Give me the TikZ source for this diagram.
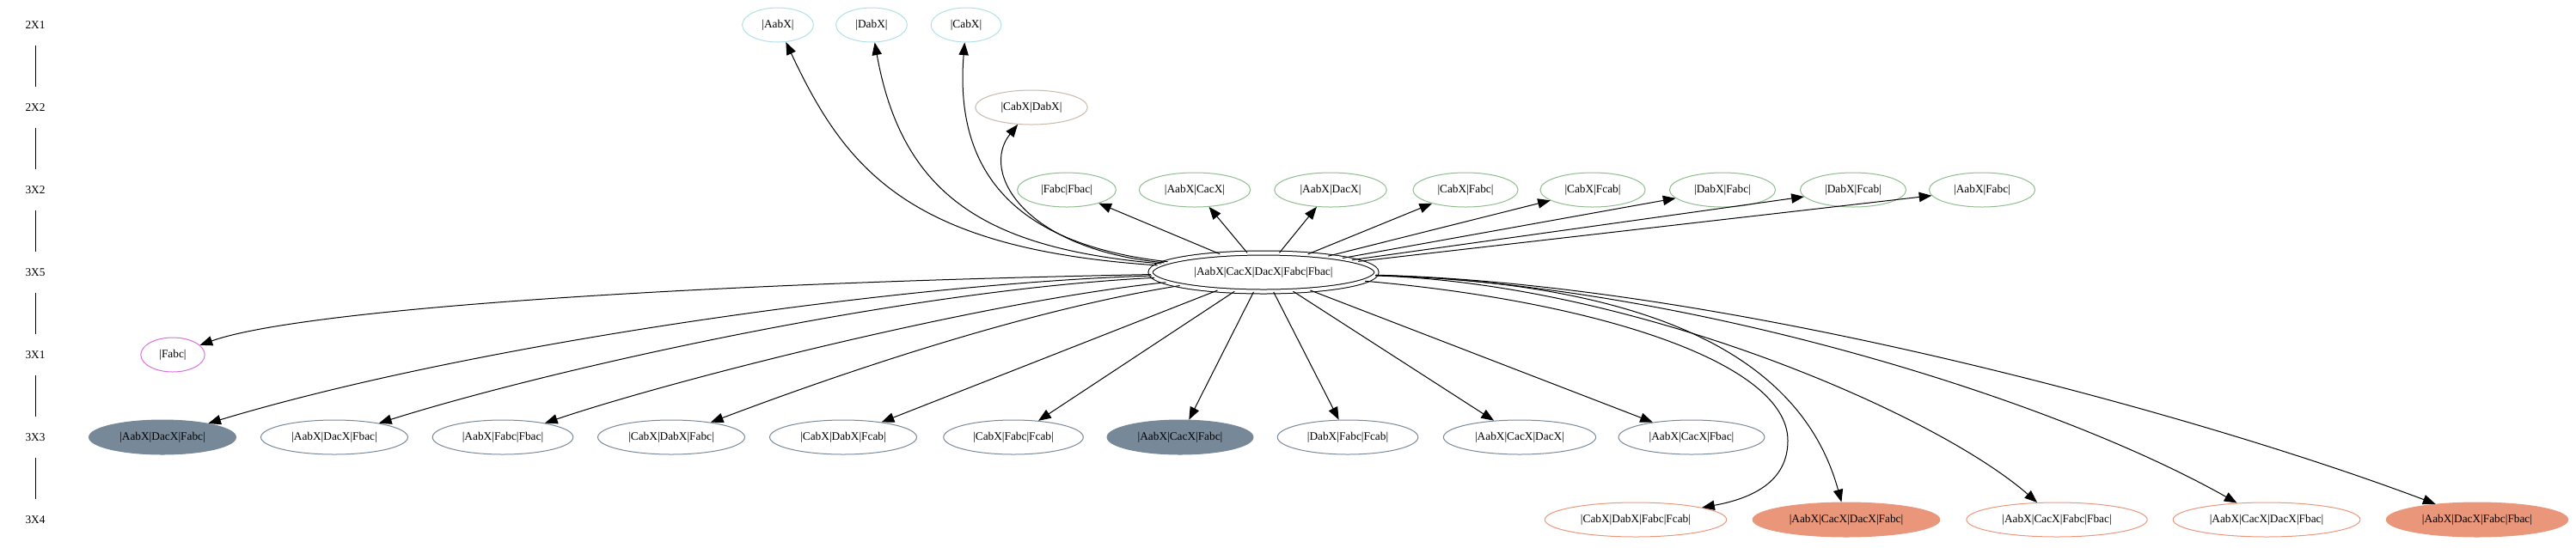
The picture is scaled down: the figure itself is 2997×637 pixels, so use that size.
\documentclass[tikz,border=0pt]{standalone}
\usepackage{fontspec}
\setmainfont{Liberation Serif}
\usetikzlibrary{shapes.geometric,arrows.meta}
\definecolor{rowcyan}{HTML}{B0E0E6}
\definecolor{rowtan}{RGB}{200,185,170}
\definecolor{rowgreen}{HTML}{8FBC8F}
\definecolor{roworchid}{HTML}{DA70D6}
\definecolor{rowslate}{HTML}{778899}
\definecolor{rowsalmon}{HTML}{E9967A}
\begin{document}
\begin{tikzpicture}
        [x=0.75pt,y=-0.75pt,
         >={Triangle[length=11pt,width=8.5pt]},
         rank/.style={inner sep=0pt,minimum height=36pt},
         state/.style={ellipse,draw,line width=0.75pt,inner xsep=8pt,
                       inner ysep=0pt,minimum height=30pt},
         link/.style={->,line width=0.75pt}]
        \useasboundingbox (0,0) rectangle (2997,637);

        \node[rank] (r1) at (41,29) {2X1};
        \node[rank] (r2) at (41,125) {2X2};
        \node[rank] (r3) at (41,221) {3X2};
        \node[rank] (r4) at (41,317) {3X5};
        \node[rank] (r5) at (41,413) {3X1};
        \node[rank] (r6) at (41,509) {3X3};
        \node[rank] (r7) at (41,605) {3X4};
        \draw[line width=0.75pt] (r1) -- (r2);
        \draw[line width=0.75pt] (r2) -- (r3);
        \draw[line width=0.75pt] (r3) -- (r4);
        \draw[line width=0.75pt] (r4) -- (r5);
        \draw[line width=0.75pt] (r5) -- (r6);
        \draw[line width=0.75pt] (r6) -- (r7);

        \node[state,draw=rowcyan] (a1) at (905,29) {|AabX|};
        \node[state,draw=rowcyan] (a2) at (1014,29) {|DabX|};
        \node[state,draw=rowcyan] (a3) at (1124,29) {|CabX|};

        \node[state,draw=rowtan] (b1) at (1200,125) {|CabX|DabX|};

        \node[state,draw=rowgreen] (c1) at (1241,221) {|Fabc|Fbac|};
        \node[state,draw=rowgreen] (c2) at (1390,221) {|AabX|CacX|};
        \node[state,draw=rowgreen] (c3) at (1548,221) {|AabX|DacX|};
        \node[state,draw=rowgreen] (c4) at (1705,221) {|CabX|Fabc|};
        \node[state,draw=rowgreen] (c5) at (1853,221) {|CabX|Fcab|};
        \node[state,draw=rowgreen] (c6) at (2004,221) {|DabX|Fabc|};
        \node[state,draw=rowgreen] (c7) at (2156,221) {|DabX|Fcab|};
        \node[state,draw=rowgreen] (c8) at (2306,221) {|AabX|Fabc|};

        \node[state,double,double distance=3pt,inner xsep=9.3pt,
              minimum height=33.75pt] (c) at (1470,317) {|AabX|CacX|DacX|Fabc|Fbac|};

        \node[state,draw=roworchid] (d1) at (201,413) {|Fabc|};

        \node[state,draw=rowslate,fill=rowslate] (e1) at (189,509) {|AabX|DacX|Fabc|};
        \node[state,draw=rowslate] (e2) at (389,509) {|AabX|DacX|Fbac|};
        \node[state,draw=rowslate] (e3) at (585,509) {|AabX|Fabc|Fbac|};
        \node[state,draw=rowslate] (e4) at (781,509) {|CabX|DabX|Fabc|};
        \node[state,draw=rowslate] (e5) at (981,509) {|CabX|DabX|Fcab|};
        \node[state,draw=rowslate] (e6) at (1179,509) {|CabX|Fabc|Fcab|};
        \node[state,draw=rowslate,fill=rowslate] (e7) at (1373,509) {|AabX|CacX|Fabc|};
        \node[state,draw=rowslate] (e8) at (1568,509) {|DabX|Fabc|Fcab|};
        \node[state,draw=rowslate] (e9) at (1768,509) {|AabX|CacX|DacX|};
        \node[state,draw=rowslate] (e10) at (1968,509) {|AabX|CacX|Fbac|};

        \node[state,draw=rowsalmon] (f1) at (1903,605) {|CabX|DabX|Fabc|Fcab|};
        \node[state,draw=rowsalmon,fill=rowsalmon] (f2) at (2148,605) {|AabX|CacX|DacX|Fabc|};
        \node[state,draw=rowsalmon] (f3) at (2393,605) {|AabX|CacX|Fabc|Fbac|};
        \node[state,draw=rowsalmon] (f4) at (2637,605) {|AabX|CacX|DacX|Fbac|};
        \node[state,draw=rowsalmon,fill=rowsalmon] (f5) at (2882,605) {|AabX|DacX|Fabc|Fbac|};

        % upwards
        \draw[link] (c) .. controls (1060,290) and (985,200) .. (a1);
        \draw[link] (c) .. controls (1150,290) and (1050,230) .. (a2);
        \draw[link] (c) .. controls (1180,285) and (1110,200) .. (a3);
        \draw[link] (c) .. controls (1190,290) and (1140,200) .. (b1);
        \draw[link] (c) -- (c1);
        \draw[link] (c) -- (c2);
        \draw[link] (c) -- (c3);
        \draw[link] (c) -- (c4);
        \draw[link] (c) -- (c5);
        \draw[link] (c) -- (c6);
        \draw[link] (c) -- (c7);
        \draw[link] (c) -- (c8);

        % downwards
        \draw[link] (c) .. controls (800,330) and (350,360) .. (d1);
        \draw[link] (c) .. controls (1050,330) and (550,400) .. (e1);
        \draw[link] (c) .. controls (1050,338) and (640,430) .. (e2);
        \draw[link] (c) .. controls (1150,350) and (790,440) .. (e3);
        \draw[link] (c) .. controls (1200,360) and (990,430) .. (e4);
        \draw[link] (c) -- (e5);
        \draw[link] (c) -- (e6);
        \draw[link] (c) -- (e7);
        \draw[link] (c) -- (e8);
        \draw[link] (c) -- (e9);
        \draw[link] (c) -- (e10);

        \draw[link] (c) .. controls (1850,350) and (2080,420) .. (2080,513)
                        .. controls (2080,560) and (2040,580) .. (f1);
        \draw[link] (c) .. controls (1950,330) and (2100,430) .. (f2);
        \draw[link] (c) .. controls (1900,330) and (2250,480) .. (f3);
        \draw[link] (c) .. controls (1950,330) and (2380,460) .. (f4);
        \draw[link] (c) .. controls (2000,330) and (2550,480) .. (f5);
      \end{tikzpicture}
\end{document}
